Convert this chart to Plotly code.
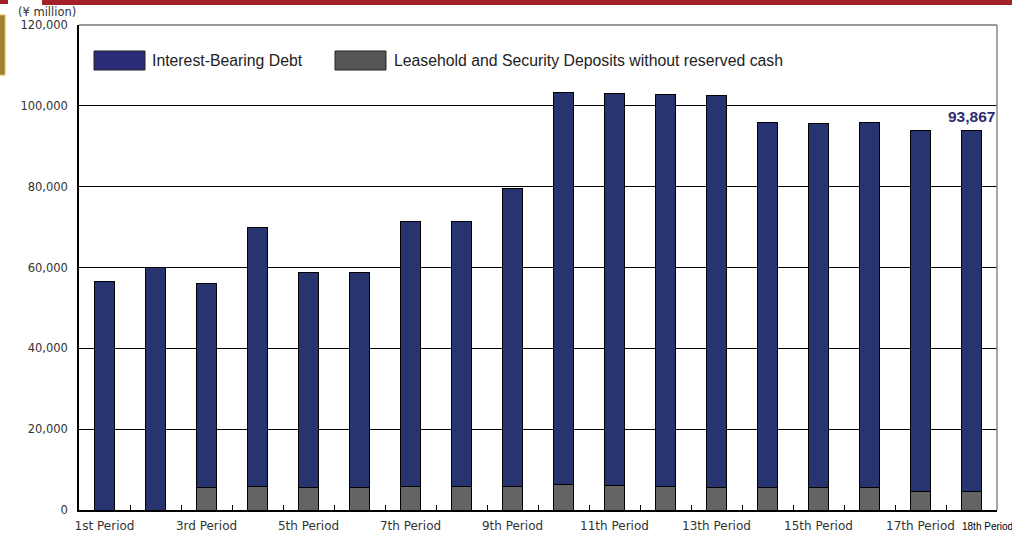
import plotly.graph_objects as go

# Period labels (x axis)
periods = [
    "1st Period", "2nd Period", "3rd Period", "4th Period", "5th Period",
    "6th Period", "7th Period", "8th Period", "9th Period", "10th Period",
    "11th Period", "12th Period", "13th Period", "14th Period", "15th Period",
    "16th Period", "17th Period", "18th Period",
]

# Interest-bearing debt (¥ million)
debt = [
    56500, 60100, 50500, 64300, 53100, 53100, 65400, 65400, 73700,
    97000, 97100, 97100, 97000, 90200, 90100, 90200, 89200, 89300,
]

# Leasehold and security deposits without reserved cash (¥ million)
deposits = [
    0, 0, 5500, 5700, 5600, 5600, 5900, 5900, 5800,
    6400, 6000, 5800, 5500, 5600, 5500, 5600, 4600, 4567,
]

# Only odd periods carry a label under the axis; the last one is drawn separately
tick_text = [p if i % 2 == 0 and i < 17 else "" for i, p in enumerate(periods)]

BLUE = "#27346f"
GRAY = "#646464"
TICK_FONT = dict(family="DejaVu Sans", size=11.5, color="#333333")
XTICK_FONT = dict(family="DejaVu Sans", size=12, color="#333333")

fig = go.Figure()
fig.add_trace(go.Bar(
    x=periods, y=deposits, name="Leasehold and Security Deposits without reserved cash",
    marker=dict(color=GRAY, line=dict(color="black", width=1)),
    width=0.41, showlegend=False,
))
fig.add_trace(go.Bar(
    x=periods, y=debt, name="Interest-Bearing Debt",
    marker=dict(color=BLUE, line=dict(color="black", width=1)),
    width=0.41, showlegend=False,
))

# Total for the latest period
last_total = debt[-1] + deposits[-1]
fig.add_annotation(
    x=periods[-1], y=last_total, xref="x", yref="y",
    text=f"<b>{last_total:,}</b>", showarrow=False,
    yanchor="bottom", yshift=4,
    font=dict(family="Liberation Sans", size=15.5, color="#2e2b6e"),
)
# Last period label in its own smaller type
fig.add_annotation(
    x=periods[-1], y=0, xref="x", yref="y",
    text=periods[-1], showarrow=False,
    xanchor="left", yanchor="top", xshift=-12, yshift=-9,
    font=dict(family="Liberation Sans", size=10, color="black"),
)
# Unit label
fig.add_annotation(
    x=-0.0686, y=1.0268, xref="paper", yref="paper",
    text="(¥ million)", showarrow=False, xanchor="left", yanchor="middle",
    font=TICK_FONT,
)

# Custom legend: swatches + captions
legend_items = [
    (0.01634, 0.0719, 0.0770, "#2b2c78", "Interest-Bearing Debt"),
    (0.2789, 0.3344, 0.3409, "#555555", "Leasehold and Security Deposits without reserved cash"),
]
shapes = []
for x0, x1, tx, col, label in legend_items:
    shapes.append(dict(type="rect", xref="paper", yref="paper",
                       x0=x0, x1=x1, y0=0.9072, y1=0.9464,
                       fillcolor=col, line=dict(color="#222222", width=1)))
    fig.add_annotation(x=tx, y=0.9268, xref="paper", yref="paper",
                       text=label, showarrow=False, xanchor="left", yanchor="middle",
                       font=dict(family="Liberation Sans", size=15.8, color="#222222"))

# Frame: grey top and right edges
shapes.append(dict(type="line", xref="paper", yref="paper", x0=0, x1=1, y0=1, y1=1,
                   line=dict(color="#777777", width=1.5)))
shapes.append(dict(type="line", xref="paper", yref="paper", x0=1, x1=1, y0=0, y1=1,
                   line=dict(color="#888888", width=1.5)))

# Page decoration: red header band and gold marker on the left
shapes.append(dict(type="rect", xref="paper", yref="paper", x0=-0.0403, x1=1.02,
                   y0=1.0412, y1=1.06, fillcolor="#a32228", line=dict(width=0), layer="above"))
shapes.append(dict(type="rect", xref="paper", yref="paper", x0=-0.09, x1=-0.0773,
                   y0=1.0432, y1=1.06, fillcolor="#a32228", line=dict(width=0), layer="above"))
shapes.append(dict(type="rect", xref="paper", yref="paper", x0=-0.09, x1=-0.0806,
                   y0=0.8969, y1=1.0206, fillcolor="#9e8230",
                   line=dict(color="#d8b84a", width=1), layer="above"))

fig.update_layout(
    width=1012, height=533,
    margin=dict(l=79, r=15, t=25, b=23),
    paper_bgcolor="white", plot_bgcolor="white",
    barmode="stack",
    shapes=shapes,
    showlegend=False,
    xaxis=dict(
        type="category", tickvals=periods, ticktext=tick_text,
        tickson="boundaries", ticks="inside", ticklen=5, tickcolor="black",
        showline=True, linecolor="black", linewidth=1.5,
        showgrid=False, tickfont=XTICK_FONT, ticklabelstandoff=4,
        tickangle=0, automargin=False,
        range=[-0.5, 17.5],
    ),
    yaxis=dict(
        range=[0, 120000], dtick=20000, tickformat=",",
        showgrid=True, gridcolor="black", gridwidth=1,
        showline=True, linecolor="black", linewidth=1.5,
        ticks="inside", ticklen=5, tickcolor="black",
        tickfont=TICK_FONT, ticklabelstandoff=7, zeroline=False,
        automargin=False,
    ),
)

fig.write_html("out.html")
